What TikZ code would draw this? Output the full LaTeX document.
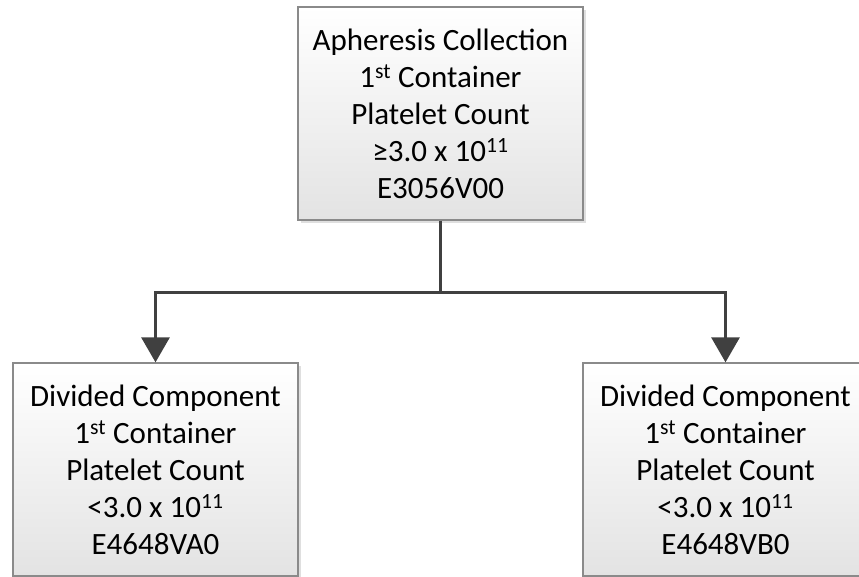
\documentclass[tikz,border=0pt]{standalone}
\usepackage{fontspec}
\setmainfont{Carlito}
\usetikzlibrary{positioning,shadows,arrows.meta}

\definecolor{boxline}{HTML}{8A8A8A}
\definecolor{linkgray}{HTML}{404040}

\begin{document}
\begin{tikzpicture}[x=1pt,y=-1pt,
  countbox/.style={draw=boxline, line width=1.3pt, top color=white, bottom color=gray!22,
    minimum width=285pt, minimum height=213pt, inner sep=0pt, align=center,
    font=\fontsize{31}{37}\selectfont,
    drop shadow={opacity=0.25, shadow xshift=3pt, shadow yshift=-3pt}},
  link/.style={draw=linkgray, line width=3pt},
  linkarrow/.style={link, -{Triangle[width=28pt,length=25pt]}}]
\useasboundingbox (0,0) rectangle (859,577);
\node[countbox] (apheresis) at (440.5,113.5)
  {Apheresis Collection\\1\textsuperscript{st} Container\\Platelet Count\\≥3.0 x 10\textsuperscript{11}\\E3056V00};
\node[countbox] (divA) at (155.5,469.5)
  {Divided Component\\1\textsuperscript{st} Container\\Platelet Count\\<3.0 x 10\textsuperscript{11}\\E4648VA0};
\node[countbox] (divB) at (725.5,469.5)
  {Divided Component\\1\textsuperscript{st} Container\\Platelet Count\\<3.0 x 10\textsuperscript{11}\\E4648VB0};
\coordinate (split) at ([yshift=-71.5pt]apheresis.south);
\draw[link] (apheresis.south) -- (split);
\draw[linkarrow] (split) -| (divA.north);
\draw[linkarrow] (split) -| (divB.north);
\end{tikzpicture}
\end{document}
